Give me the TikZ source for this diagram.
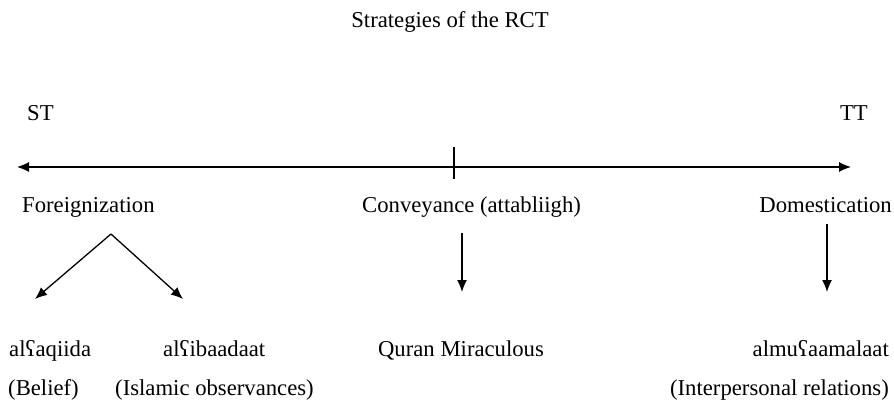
\documentclass[tikz,border=0pt]{standalone}
\usepackage{fontspec}
\setmainfont{Liberation Serif}
\usepackage{tikz}
\usetikzlibrary{arrows.meta}

\begin{document}
\begin{tikzpicture}[x=1pt,y=1pt,yscale=-1,
  txt/.style={inner sep=0pt,font=\fontsize{22.7}{27}\selectfont},
  conn/.style={line width=1.3pt,-{Latex[length=12pt,width=10pt]}}]
\useasboundingbox (0,0) rectangle (894,406);

% Text Node
\draw (450,28) node [txt,anchor=base] (title) {Strategies of the RCT};
% Text Node
\draw (27,121) node [txt,anchor=base west] (st) {ST};
% Text Node
\draw (868,121) node [txt,anchor=base east] (tt) {TT};

%Straight Lines
\coordinate (lft) at (17,167);
\coordinate (rgt) at (851,167);
\coordinate (tickTop) at (454,147);
\coordinate (tickBot) at (454,179);
\draw [line width=1.2pt,{Latex[length=12pt,width=10pt]}-{Latex[length=12pt,width=10pt]}] (lft) -- (rgt);
\draw [line width=1.1pt] (tickTop) -- (tickBot);

% Text Node
\draw (22,213) node [txt,anchor=base west] (foreign) {Foreignization};
% Text Node
\draw (362,213) node [txt,anchor=base west] (convey) {Conveyance (attabliigh)};
% Text Node
\draw (892,213) node [txt,anchor=base east] (domest) {Domestication};

% Text Node
\draw (9,356) node [txt,anchor=base west] (aqiida) {alʕaqiida};
% Text Node
\draw (163,356) node [txt,anchor=base west] (ibaad) {alʕibaadaat};
% Text Node
\draw (461,356) node [txt,anchor=base] (quran) {Quran Miraculous};
% Text Node
\draw (889,356) node [txt,anchor=base east] (muaam) {almuʕaamalaat};

% Text Node
\draw (8,395) node [txt,anchor=base west] (belief) {(Belief)};
% Text Node
\draw (115,395) node [txt,anchor=base west] (islamic) {(Islamic observances)};
% Text Node
\draw (889,395) node [txt,anchor=base east] (interp) {(Interpersonal relations)};

%Straight Lines
\coordinate (apex) at (111,234);
\coordinate (aqiidaTip) at (35,299);
\coordinate (ibaadTip) at (183,299);
\draw [conn] (apex) -- (aqiidaTip);
\draw [conn] (apex) -- (ibaadTip);

%Straight Lines
\coordinate (conveyTop) at (462,233);
\coordinate (quranTip) at (462,292);
\draw [conn] (conveyTop) -- (quranTip);

%Straight Lines
\coordinate (domestTop) at (827,224);
\coordinate (muaamTip) at (827,292);
\draw [conn] (domestTop) -- (muaamTip);

\end{tikzpicture}
\end{document}
